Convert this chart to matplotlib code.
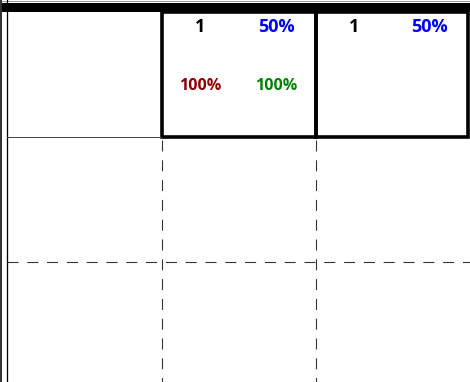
import matplotlib
matplotlib.use("Agg")
import matplotlib.pyplot as plt
from matplotlib.patches import Rectangle

# cell values per column block
counts = ["1", "1"]
shares = ["50%", "50%"]
low_left = ["100%", None]
low_right = ["100%", None]

# column edges (pixels) of the two boxed columns
col_edges = [161.5, 315.5, 468]
box_top, box_bottom = 12, 136.5

fig = plt.figure(figsize=(4.7, 3.82), dpi=100)
ax = fig.add_axes([0, 0, 1, 1])
ax.set_xlim(0, 470)
ax.set_ylim(382, 0)
ax.axis("off")

px = 0.72  # one pixel in points

# top bar and left double rule
ax.axhline(1, color="#999999", lw=1 * px)
ax.add_patch(Rectangle((0, 3), 470, 9, color="black", lw=0))
ax.axvline(1, color="#333333", lw=2 * px)
ax.axvline(6.5, color="black", lw=1.3 * px)
ax.plot([7, 161], [137, 137], color="#444444", lw=1 * px)

# dashed grid below the header
dash = (0, (10, 8))
for x in col_edges[:2]:
    ax.plot([x, x], [140, 382], color="#333333", lw=1.1 * px, linestyle=dash)
ax.plot([7, 470], [262, 262], color="#333333", lw=1.1 * px, linestyle=dash)

font = dict(family=["Open Sans", "DejaVu Sans"], weight="bold",
            ha="center", va="center")

for i in range(2):
    left, right = col_edges[i], col_edges[i + 1]
    w = right - left
    ax.add_patch(Rectangle((left, box_top), w, box_bottom - box_top,
                           fill=False, edgecolor="black", lw=3.6 * px))
    ax.text(left + w * 0.25, 26.5, counts[i], color="black", fontsize=13, **font)
    ax.text(left + w * 0.745, 26.5, shares[i], color="#0000FF", fontsize=13, **font)
    if low_left[i]:
        ax.text(left + w * 0.25, 86.5, low_left[i], color="#8B0000", fontsize=11.5, **font)
    if low_right[i]:
        ax.text(left + w * 0.745, 86.5, low_right[i], color="#008000", fontsize=11.5, **font)

fig.savefig("out.png", dpi=100)
